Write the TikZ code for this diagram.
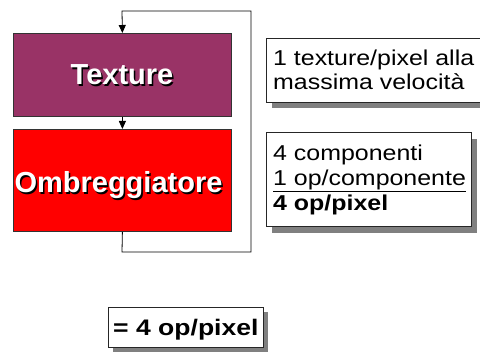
\documentclass[tikz,border=0pt]{standalone}
\usepackage{fontspec}
\usepackage{graphicx}
\setmainfont{Liberation Sans}
\usetikzlibrary{arrows.meta}
\definecolor{texpurple}{HTML}{993366}
\definecolor{shadowgray}{HTML}{808080}
\newcommand{\widetext}[1]{\scalebox{1.16}[1]{#1}}
\tikzset{
  stage/.style={draw=black!80, line width=0.8pt, anchor=north west, inner sep=0pt},
  stagetext/.style={font=\bfseries\fontsize{29}{30}\selectfont, text=white, anchor=base, inner sep=0pt},
  stageshadow/.style={font=\bfseries\fontsize{29}{30}\selectfont, text=black, anchor=base, inner sep=0pt},
  notebox/.style={draw=black!85, fill=white, line width=0.8pt, anchor=north west, inner sep=0pt},
  noteshadow/.style={fill=shadowgray, draw=none, anchor=north west, inner sep=0pt},
  notetext/.style={font=\fontsize{21.5}{24}\selectfont, anchor=base west, inner sep=0pt},
  flow/.style={line width=0.8pt, -{Triangle[length=8pt,width=7pt]}},
}
\begin{document}
\begin{tikzpicture}[x=1pt,y=-1pt]
\useasboundingbox (0,0) rectangle (480,352);
% stages
\node[stage, fill=texpurple, minimum width=218pt, minimum height=83pt] (tex) at (13,33) {};
\node[stage, fill=red, minimum width=218pt, minimum height=102pt] (omb) at (13,129) {};
\node[stageshadow] (texsh) at (123.5,86.5) {Texture};
\node[stagetext] (texlbl) at (122,85) {Texture};
\node[stageshadow] (ombsh) at (120,194.5) {Ombreggiatore};
\node[stagetext] (omblbl) at (118.5,193) {Ombreggiatore};
% connectors
\coordinate (c1) at (122,252);
\coordinate (c2) at (251,252);
\coordinate (c3) at (251,11);
\coordinate (c4) at (122,11);
\draw[flow] (tex.south) -- (omb.north);
\draw[flow] (omb.south) -- (c1) -- (c2) -- (c3) -- (c4) -- (tex.north);
% note 1
\node[noteshadow, minimum width=230pt, minimum height=64pt] (n1sh) at (272,44) {};
\node[notebox, minimum width=230pt, minimum height=64pt] (n1) at (266,38) {};
\node[notetext] (n1a) at (273,66) {\widetext{1 texture/pixel alla}};
\node[notetext] (n1b) at (273,90) {\widetext{massima velocità}};
% note 2
\node[noteshadow, minimum width=205pt, minimum height=94pt] (n2sh) at (272,139) {};
\node[notebox, minimum width=205pt, minimum height=94pt] (n2) at (266,132) {};
\node[notetext] (n2a) at (273,161) {\widetext{4 componenti}};
\node[notetext] (n2b) at (273,186) {\widetext{1 op/componente}};
\draw[line width=1.3pt] ([yshift=-5.5pt]n2b.base west) -- ([yshift=-5.5pt]n2b.base east);
\node[notetext, font=\bfseries\fontsize{21.5}{24}\selectfont] (n2c) at (273,211) {\widetext{4 op/pixel}};
% result
\node[noteshadow, minimum width=155pt, minimum height=40pt] (n3sh) at (113,312) {};
\node[notebox, minimum width=155pt, minimum height=40pt] (n3) at (108,307) {};
\node[notetext, font=\bfseries\fontsize{22.5}{24}\selectfont] (n3t) at (113,336) {\scalebox{1.18}[1]{= 4 op/pixel}};
\end{tikzpicture}
\end{document}
